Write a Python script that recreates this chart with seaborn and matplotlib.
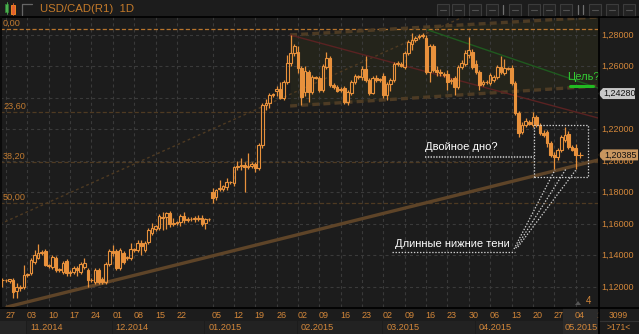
import numpy as np
import pandas as pd
import matplotlib
matplotlib.use("Agg")
import matplotlib.pyplot as plt
from matplotlib.patches import Rectangle, Polygon
import seaborn as sns

# ---------------- data ----------------
holidays = ["2014-12-25", "2015-01-01"]
all_days = pd.date_range("2014-10-26", "2015-05-04", freq="D")
dates = [d for d in all_days if d.weekday() != 5 and d.strftime("%Y-%m-%d") not in holidays]

opens = [1.1244, 1.1244, 1.1238, 1.1244, 1.1174, 1.1193,
         1.1200, 1.1276, 1.1289, 1.1359, 1.1384, 1.1416,
         1.1428, 1.1333, 1.1327, 1.1384, 1.1308, 1.1295,
         1.1365, 1.1289, 1.1295, 1.1321, 1.1295, 1.1327,
         1.1308, 1.1244, 1.1232, 1.1308, 1.1251, 1.1232,
         1.1346, 1.1428, 1.1428, 1.1321, 1.1416, 1.1384,
         1.1384, 1.1435, 1.1435, 1.1479, 1.1435, 1.1485,
         1.1543, 1.1568, 1.1574, 1.1644, 1.1644, 1.1670,
         1.1600, 1.1606, 1.1613, 1.1651, 1.1625, 1.1632,
         1.1632, 1.1632, 1.1638, 1.1606, 1.1632, 1.1803,
         1.1771, 1.1822, 1.1822, 1.1835, 1.1867, 1.1860,
         1.1962, 1.1968, 1.1974, 1.1962, 1.1968, 1.1981,
         1.1955, 1.2102, 1.2355, 1.2368, 1.2419, 1.2445,
         1.2457, 1.2400, 1.2502, 1.2622, 1.2686, 1.2692,
         1.2591, 1.2438, 1.2565, 1.2438, 1.2533, 1.2527,
         1.2451, 1.2597, 1.2654, 1.2483, 1.2470, 1.2457,
         1.2464, 1.2374, 1.2432, 1.2502, 1.2533, 1.2533,
         1.2584, 1.2514, 1.2432, 1.2527, 1.2514, 1.2540,
         1.2419, 1.2489, 1.2514, 1.2616, 1.2616, 1.2597,
         1.2686, 1.2743, 1.2768, 1.2787, 1.2794, 1.2781,
         1.2565, 1.2730, 1.2578, 1.2565, 1.2552, 1.2552,
         1.2508, 1.2527, 1.2470, 1.2597, 1.2616, 1.2673,
         1.2692, 1.2616, 1.2565, 1.2489, 1.2502, 1.2495,
         1.2514, 1.2533, 1.2597, 1.2559, 1.2591, 1.2591,
         1.2495, 1.2305, 1.2184, 1.2229, 1.2248, 1.2229,
         1.2279, 1.2229, 1.2178, 1.2184, 1.2114, 1.2038,
         1.2025, 1.2070, 1.2133, 1.2171, 1.2089, 1.2082]
highs = [1.1257, 1.1251, 1.1251, 1.1257, 1.1225, 1.1213,
         1.1340, 1.1289, 1.1384, 1.1435, 1.1473, 1.1435,
         1.1441, 1.1346, 1.1403, 1.1397, 1.1321, 1.1365,
         1.1378, 1.1308, 1.1333, 1.1333, 1.1359, 1.1384,
         1.1321, 1.1257, 1.1321, 1.1321, 1.1263, 1.1359,
         1.1441, 1.1466, 1.1441, 1.1447, 1.1428, 1.1397,
         1.1479, 1.1447, 1.1498, 1.1498, 1.1492, 1.1574,
         1.1606, 1.1593, 1.1663, 1.1676, 1.1676, 1.1682,
         1.1638, 1.1619, 1.1663, 1.1676, 1.1644, 1.1644,
         1.1651, 1.1657, 1.1657, 1.1638, 1.1638, 1.1829,
         1.1822, 1.1879, 1.1848, 1.1892, 1.1873, 1.1968,
         1.2000, 1.2019, 1.1994, 1.2051, 1.1994, 1.1994,
         1.2114, 1.2368, 1.2394, 1.2432, 1.2432, 1.2476,
         1.2502, 1.2514, 1.2673, 1.2800, 1.2743, 1.2730,
         1.2603, 1.2603, 1.2578, 1.2546, 1.2540, 1.2540,
         1.2616, 1.2692, 1.2667, 1.2495, 1.2483, 1.2470,
         1.2476, 1.2451, 1.2514, 1.2552, 1.2546, 1.2603,
         1.2667, 1.2527, 1.2540, 1.2546, 1.2527, 1.2559,
         1.2502, 1.2527, 1.2629, 1.2635, 1.2629, 1.2698,
         1.2768, 1.2813, 1.2794, 1.2806, 1.2813, 1.2800,
         1.2743, 1.2743, 1.2603, 1.2584, 1.2565, 1.2578,
         1.2527, 1.2540, 1.2610, 1.2641, 1.2705, 1.2787,
         1.2711, 1.2641, 1.2578, 1.2514, 1.2514, 1.2559,
         1.2546, 1.2610, 1.2667, 1.2648, 1.2597, 1.2610,
         1.2508, 1.2317, 1.2248, 1.2273, 1.2260, 1.2311,
         1.2292, 1.2241, 1.2197, 1.2197, 1.2127, 1.2057,
         1.2082, 1.2165, 1.2216, 1.2190, 1.2102, 1.2108]
lows = [1.1200, 1.1232, 1.1225, 1.1130, 1.1130, 1.1174,
        1.1187, 1.1263, 1.1276, 1.1346, 1.1378, 1.1403,
        1.1333, 1.1321, 1.1314, 1.1295, 1.1295, 1.1282,
        1.1270, 1.1270, 1.1282, 1.1270, 1.1282, 1.1314,
        1.1200, 1.1232, 1.1219, 1.1219, 1.1219, 1.1219,
        1.1333, 1.1397, 1.1308, 1.1308, 1.1346, 1.1371,
        1.1371, 1.1422, 1.1422, 1.1403, 1.1422, 1.1473,
        1.1530, 1.1555, 1.1562, 1.1562, 1.1568, 1.1581,
        1.1587, 1.1593, 1.1587, 1.1606, 1.1613, 1.1619,
        1.1613, 1.1619, 1.1587, 1.1568, 1.1619, 1.1733,
        1.1752, 1.1809, 1.1809, 1.1816, 1.1854, 1.1841,
        1.1943, 1.1943, 1.1803, 1.1949, 1.1955, 1.1930,
        1.1943, 1.2082, 1.2324, 1.2336, 1.2406, 1.2413,
        1.2394, 1.2387, 1.2489, 1.2603, 1.2667, 1.2559,
        1.2355, 1.2413, 1.2374, 1.2425, 1.2521, 1.2438,
        1.2438, 1.2584, 1.2470, 1.2457, 1.2438, 1.2438,
        1.2362, 1.2355, 1.2419, 1.2489, 1.2521, 1.2514,
        1.2502, 1.2419, 1.2425, 1.2502, 1.2502, 1.2400,
        1.2387, 1.2445, 1.2502, 1.2603, 1.2597, 1.2584,
        1.2673, 1.2705, 1.2756, 1.2775, 1.2781, 1.2552,
        1.2502, 1.2565, 1.2540, 1.2540, 1.2533, 1.2451,
        1.2489, 1.2419, 1.2457, 1.2584, 1.2603, 1.2654,
        1.2584, 1.2552, 1.2451, 1.2476, 1.2489, 1.2483,
        1.2502, 1.2521, 1.2552, 1.2546, 1.2578, 1.2483,
        1.2292, 1.2152, 1.2171, 1.2216, 1.2229, 1.2216,
        1.2216, 1.2165, 1.2152, 1.2089, 1.2025, 1.1949,
        1.2006, 1.2057, 1.2121, 1.2076, 1.2063, 1.1949]
closes = [1.1244, 1.1247, 1.1251, 1.1168, 1.1200, 1.1200,
          1.1276, 1.1279, 1.1371, 1.1403, 1.1416, 1.1422,
          1.1340, 1.1336, 1.1390, 1.1308, 1.1311, 1.1352,
          1.1289, 1.1292, 1.1321, 1.1308, 1.1346, 1.1352,
          1.1244, 1.1247, 1.1308, 1.1232, 1.1232, 1.1346,
          1.1428, 1.1416, 1.1321, 1.1435, 1.1359, 1.1387,
          1.1441, 1.1438, 1.1479, 1.1460, 1.1479, 1.1562,
          1.1574, 1.1587, 1.1651, 1.1638, 1.1670, 1.1600,
          1.1606, 1.1613, 1.1651, 1.1625, 1.1632, 1.1629,
          1.1638, 1.1635, 1.1600, 1.1632, 1.1629, 1.1765,
          1.1816, 1.1829, 1.1841, 1.1867, 1.1864, 1.1962,
          1.1968, 1.1974, 1.1962, 1.1968, 1.1981, 1.1955,
          1.2102, 1.2355, 1.2368, 1.2419, 1.2422, 1.2457,
          1.2400, 1.2502, 1.2622, 1.2686, 1.2730, 1.2591,
          1.2406, 1.2572, 1.2438, 1.2533, 1.2527, 1.2451,
          1.2603, 1.2654, 1.2483, 1.2470, 1.2445, 1.2451,
          1.2374, 1.2438, 1.2502, 1.2540, 1.2536, 1.2584,
          1.2514, 1.2432, 1.2527, 1.2514, 1.2521, 1.2419,
          1.2489, 1.2514, 1.2616, 1.2622, 1.2603, 1.2686,
          1.2756, 1.2768, 1.2781, 1.2794, 1.2800, 1.2565,
          1.2730, 1.2578, 1.2565, 1.2559, 1.2546, 1.2502,
          1.2514, 1.2470, 1.2597, 1.2622, 1.2686, 1.2705,
          1.2597, 1.2565, 1.2483, 1.2502, 1.2499, 1.2546,
          1.2533, 1.2597, 1.2565, 1.2591, 1.2584, 1.2495,
          1.2305, 1.2178, 1.2229, 1.2254, 1.2235, 1.2279,
          1.2229, 1.2178, 1.2165, 1.2114, 1.2038, 1.2025,
          1.2070, 1.2152, 1.2165, 1.2089, 1.2070, 1.20385]

price_ticks = [1.12, 1.14, 1.16, 1.18, 1.20, 1.22, 1.26, 1.28]
fib_levels = [1.2838, 1.2311, 1.1994, 1.1733]
fib_names = ["0,00", "23,60", "38,20", "50,00"]
last_price = 1.20385
target_price = 1.24280
title = "USD/CAD(R1)  1D"

# ---------------- style ----------------
BG = "#1c1c1c"
ORANGE = "#e8913c"
LABEL = "#d3873a"
GRID = "#3a3a3a"
sns.set_style("dark", {"axes.facecolor": BG, "figure.facecolor": BG})
plt.rcParams["font.family"] = ["Liberation Sans", "DejaVu Sans"]
plt.rcParams["lines.scale_dashes"] = False

W, H = 639, 334
fig = plt.figure(figsize=(W / 100, H / 100), dpi=100)
fig.patch.set_facecolor(BG)
ax = fig.add_axes([0, 27 / H, 598 / W, 290 / H])
ax.set_facecolor(BG)
ax.set_xlim(-0.7, 167.3)
ax.set_ylim(1.1073, 1.2914)
for s in ax.spines.values():
    s.set_visible(False)
ax.set_xticks([])
ax.set_yticks([])

n = len(closes)
idx = np.arange(n)


def kx(k):
    return ax.transData.transform((k, 1.2))[0]


def py(p):
    return H - ax.transData.transform((0, p))[1]


# weekly labels (skip ones that would crowd the previous one)
mondays = []
for i, d in enumerate(dates):
    if d.weekday() == 0:
        if mondays and kx(i) - kx(mondays[-1]) < 18.5:
            continue
        mondays.append(i)

# grid
for p in np.arange(1.12, 1.2801, 0.02):
    ax.axhline(p, color=GRID, lw=0.8, ls=(0, (2.2, 2.2)), zorder=0.5)
for k in mondays:
    ax.axvline(k, color=GRID, lw=0.8, ls=(0, (2.2, 2.2)), zorder=0.5)

# channel fill + dashed borders
ch_x = [80.8, 167.3]
ch_up = [1.2800, 1.2914]
ch_lo = [1.2349, 1.2476]
ax.fill_between(ch_x, ch_lo, ch_up, color="#24241b", zorder=0.3, lw=0)
ax.plot(ch_x, ch_up, color="#4d3b24", lw=2.4, ls=(0, (5, 3)), zorder=1)
ax.plot(ch_x, ch_lo, color="#4d3b24", lw=2.4, ls=(0, (5, 3)), zorder=1)

# fibonacci levels
for i, (lv, nm) in enumerate(zip(fib_levels, fib_names)):
    col = "#b8742c" if i == 0 else "#4e3a22"
    ax.axhline(lv, color=col, lw=0.9, ls=(0, (3, 1.6)), zorder=0.8)
    ax.text(0.005, lv + 0.0036, nm, transform=ax.get_yaxis_transform(),
            color="#c07a30", fontsize=6.6, va="center", ha="left")

# trend lines
sns.lineplot(x=[1.26, 167.3], y=[1.1073, 1.2006], ax=ax, color="#5e4428",
             lw=2.4, zorder=1, sort=False)
ax.plot([-0.7, 129.4], [1.1600, 1.2914], color="#4e3a22", lw=1.0,
        ls=(0, (2, 2)), zorder=1)
ax.plot([80.8, 167.3], [1.2800, 1.2273], color="#5a2222", lw=1.0, zorder=1)
ax.plot([119.5, 167.3], [1.2832, 1.2463], color="#1f5a1f", lw=1.0, zorder=1)
ax.plot([159.4, 165.9], [1.2476, 1.2476], color="#22bb22", lw=2.2, zorder=5)
ax.text(158.5, 1.2536, "Цель?", color="#33cc33", fontsize=8,
        va="center", ha="left", zorder=6)

# candles
w = 0.74
for k in idx:
    o, h, l, c = opens[k], highs[k], lows[k], closes[k]
    top, bot = max(o, c), min(o, c)
    ax.vlines(k, top, h, color=ORANGE, lw=0.9, zorder=3)
    ax.vlines(k, l, bot, color=ORANGE, lw=0.9, zorder=3)
    hgt = max(top - bot, 0.00035)
    if c >= o:
        ax.add_patch(Rectangle((k - w / 2, bot), w, hgt, facecolor="none",
                               edgecolor=ORANGE, lw=0.8, zorder=4))
    else:
        ax.add_patch(Rectangle((k - w / 2, bot), w, hgt, facecolor=ORANGE,
                               edgecolor=ORANGE, lw=0.8, zorder=4))
sns.scatterplot(x=[n + 0.2], y=[last_price], ax=ax, marker="+", s=14,
                color=ORANGE, linewidth=0.8, zorder=5)

# annotations
WD = "#d0d0d0"
ax.add_patch(Rectangle((149.3, 1.1898), 15.2, 0.0331, facecolor="none",
                       edgecolor=WD, lw=0.9, ls=(0, (1, 1.2)), zorder=6))
ax.text(118.7, 1.2086, "Двойное дно?", color="white", fontsize=8,
        va="center", ha="left", zorder=6)
ax.plot([118.7, 149.3], [1.2025, 1.2025], color="#a8a8a8", lw=1.5,
        ls=(0, (1, 1)), zorder=6)
ax.text(110.3, 1.1475, "Длинные нижние тени", color="white", fontsize=8,
        va="center", ha="left", zorder=6)
ax.plot([109.4, 144.0], [1.1425, 1.1425], color=WD, lw=0.9,
        ls=(0, (1, 1.2)), zorder=6)
for (k0, p0), (k1, p1) in [((143.7, 1.1441), (155.2, 1.1943)),
                           ((144.2, 1.1447), (158.3, 1.1949)),
                           ((144.8, 1.1454), (161.1, 1.1943))]:
    ax.plot([k0, k1], [p0, p1], color=WD, lw=0.9, ls=(0, (1, 1.2)), zorder=6)

# ---------------- overlay (pixel coordinates) ----------------
ov = fig.add_axes([0, 0, 1, 1], zorder=10)
ov.set_xlim(0, W)
ov.set_ylim(H, 0)
ov.axis("off")
ov.patch.set_alpha(0)

# title bar
ov.add_patch(Rectangle((5, 4), 3, 8, facecolor="#4caf50", edgecolor="#2e7d32", lw=0.6))
ov.plot([6.5, 6.5], [2, 14], color="#4caf50", lw=0.6)
ov.add_patch(Rectangle((11, 5), 3.5, 9, facecolor="#e06030", edgecolor="#ff9020", lw=0.6))
ov.plot([12.7, 12.7], [3, 15], color="#e06030", lw=0.6)
ov.plot([22, 22, 32], [15, 4, 4], color="#666666", lw=0.9)
ov.text(40, 9.5, title, color="#c47a2a", fontsize=8.2, va="center", ha="left")
for x0 in [437, 452, 469, 486, 509, 528, 543, 560, 589, 606, 623]:
    ov.add_patch(Rectangle((x0, 4), 11.5, 11.5, facecolor="#232323",
                           edgecolor="#3c3c3c", lw=0.8))
    ov.plot([x0 + 3, x0 + 8.5], [9.8, 9.8], color="#505050", lw=0.8)
for xs in [503, 578, 583]:
    ov.plot([xs, xs], [5, 14], color="#707070", lw=0.9)

# price axis labels
for p in price_ticks:
    ov.text(601, py(p), f"{p:.5f}".replace(".", ","), color=LABEL,
            fontsize=6.5, va="center", ha="left", zorder=1)


def tag(p, txt, fc, x_end):
    y = py(p)
    ov.add_patch(Polygon([(598, y), (603, y - 5.5), (x_end, y - 5.5),
                          (x_end, y + 5.5), (603, y + 5.5)],
                         closed=True, facecolor=fc, edgecolor="none", zorder=3))
    ov.text((603 + x_end) / 2 + 0.5, y, txt, color="#111111", fontsize=6.5,
            va="center", ha="center", zorder=4)


tag(target_price, f"{target_price:.5f}".replace(".", ","), "#c8c8c8", 635)
tag(last_price, f"{last_price:.5f}".replace(".", ","), "#c8965f", 638)

# date axis: month cells
first_wd = {}
for i, d in enumerate(dates):
    if d.weekday() < 5:
        key = (d.year, d.month)
        if key not in first_wd:
            first_wd[key] = i
month_keys = sorted(first_wd)
bounds = [kx(first_wd[mk]) for mk in month_keys]
ov.add_patch(Rectangle((0, 321), bounds[1] - 1, 13, facecolor="#262626",
                       edgecolor="none", zorder=0))
for j, mk in enumerate(month_keys):
    if mk == (2014, 10):
        continue
    x0 = min(bounds[j], 563)
    x1 = bounds[j + 1] if j + 1 < len(bounds) else 598
    ov.add_patch(Rectangle((x0, 321), x1 - x0 - 1, 13, facecolor="#222222",
                           edgecolor="none", zorder=0))
    ov.text(min(x0 + 3, 565), 327.5, f"{mk[1]:02d}.{mk[0]}", color=LABEL,
            fontsize=6.6, va="center", ha="left", zorder=1)
ov.add_patch(Rectangle((563, 308), 35, 26, facecolor="#2a2a2a",
                       edgecolor="none", zorder=0))

for k in mondays:
    ov.text(kx(k) - 0.5, 315.5, dates[k].strftime("%d"), color=LABEL,
            fontsize=6.5, va="center", ha="left", zorder=1)
ov.text(kx(n + 5) - 0.5, 315.5, "11", color=LABEL, fontsize=6.5,
        va="center", ha="left", zorder=1)

# right-bottom box (covers overflow)
ov.add_patch(Rectangle((599, 308), 40, 26, facecolor=BG, edgecolor="none", zorder=2))
ov.plot([599, W], [321, 321], color="#333333", lw=0.8, zorder=3)
ov.text(618.5, 315, "3099", color=LABEL, fontsize=6.2, va="center",
        ha="center", zorder=3)
ov.text(618.5, 327.5, ">171<", color=LABEL, fontsize=6.2, va="center",
        ha="center", zorder=3)
ov.text(588, 301.5, "4", color=LABEL, fontsize=7, va="center", ha="center")
ov.add_patch(Polygon([(575, 305), (578, 301), (581, 305)], closed=True,
                     facecolor="#555555", edgecolor="none"))

# frame lines
ov.plot([0, W], [17, 17], color="#000000", lw=1.2, zorder=5)
ov.plot([0, W], [307.5, 307.5], color="#000000", lw=1.2, zorder=5)
ov.plot([598.5, 598.5], [17, H], color="#000000", lw=1.2, zorder=5)
ov.plot([1, 1], [17, 307], color="#0a0a0a", lw=1.5, zorder=5)

fig.savefig("out.png", dpi=100, facecolor=BG)
